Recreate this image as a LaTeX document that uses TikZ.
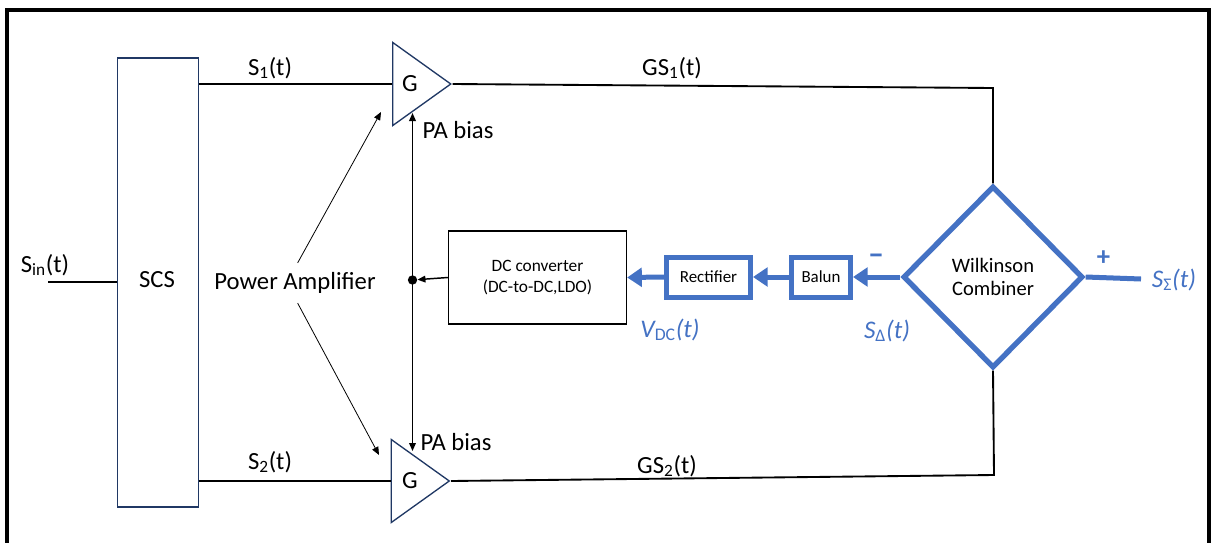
\documentclass[tikz,border=0pt]{standalone}
\usepackage{fontspec}
\setmainfont{Carlito}
\usepackage{xcolor}
\definecolor{combblue}{RGB}{68,114,196}
\definecolor{scsnavy}{RGB}{32,56,100}
\usetikzlibrary{shapes.geometric,arrows.meta}

\tikzset{
    lbl/.style={font=\fontsize{18.5}{22}\selectfont, inner sep=0pt},
    bluelbl/.style={text=combblue, font=\fontsize{19}{23}\selectfont\itshape, inner sep=0pt},
    wire/.style={line width=1.4pt},
    thinarrow/.style={line width=0.6pt, -{Triangle[length=6pt,width=5pt]}},
    biasarrow/.style={line width=1.1pt, -{Triangle[length=6pt,width=5pt]}},
    bluewire/.style={combblue, line width=3.75pt},
    bluearrow/.style={bluewire, -{Triangle[length=11pt,width=14pt]}},
    bluebox/.style={draw=combblue, line width=3.75pt, minimum height=30pt, inner sep=0pt, font=\fontsize{12.7}{15}\selectfont},
    amp/.style={draw=scsnavy, line width=1pt, isosceles triangle, isosceles triangle stretches, minimum height=43.5pt, minimum width=62.25pt, inner sep=0pt, anchor=apex},
}

\begin{document}
\begin{tikzpicture}[x=0.75pt, y=-0.75pt]
    \useasboundingbox (0,0) rectangle (1212,542);
    \clip (0,0) rectangle (1212,542);

    % Frame
    \draw[line width=2.5pt] (7,10) rectangle (1209,600);

    % Splitter
    \node[draw=scsnavy, line width=1.1pt, minimum width=60.75pt, minimum height=336.75pt, inner sep=0pt] (scs) at (158,282.5) {};
    \node[lbl] (scslbl) at (157,280) {SCS};
    \coordinate (in) at (48,282);
    \draw[wire] (in) -- (in -| scs.west);
    \node[lbl] (sinlbl) at (45,265) {S\textsubscript{in}(t)};

    % Amplifiers
    \node[amp] (amp1) at (452.5,84) {};
    \node[lbl] (g1) at (410,84) {G};
    \node[amp] (amp2) at (451,481) {};
    \node[lbl] (g2) at (410,481) {G};

    \draw[wire] (scs.east |- amp1.west) -- (amp1.west);
    \draw[wire] (scs.east |- amp2.west) -- (amp2.west);
    \node[lbl] (s1) at (270,68) {S\textsubscript{1}(t)};
    \node[lbl] (s2) at (270,462) {S\textsubscript{2}(t)};

    \node[lbl, inner ysep=7pt] (pa) at (295,283) {Power Amplifier};
    \coordinate (patip1) at (381,112);
    \coordinate (patip2) at (379,455);
    \draw[thinarrow] ([xshift=2pt]pa.north) -- (patip1);
    \draw[thinarrow] ([xshift=2pt]pa.south) -- (patip2);

    % Bias from DC converter
    \node[draw, line width=1pt, minimum width=133.5pt, minimum height=69.75pt, align=center, font=\fontsize{13}{16}\selectfont] (dcc) at (537.5,277.5) {DC converter\\(DC-to-DC,LDO)};
    \node[circle, fill, inner sep=0pt, minimum size=7pt] (dot) at (412.5,280) {};
    \coordinate (bias1) at (412.5,113);
    \coordinate (bias2) at (412.5,451);
    \draw[biasarrow] (dcc.west) -- (dot);
    \draw[biasarrow] (dot.center) -- (bias1);
    \draw[biasarrow] (dot.center) -- (bias2);
    \node[lbl] (pab1) at (458,130) {PA bias};
    \node[lbl] (pab2) at (456,442) {PA bias};

    % Combiner
    \node[diamond, draw=combblue, line width=4pt, minimum width=135pt, minimum height=136.5pt, inner sep=0pt, align=center, font=\fontsize{15.4}{17.5}\selectfont] (wil) at (993,277) {Wilkinson\\Combiner};
    \coordinate (k1) at (993,88);
    \coordinate (k2) at (994,475);
    \draw[wire] (amp1.apex) -- (k1) -- (wil.north);
    \draw[wire] (amp2.apex) -- (k2) -- (wil.south);
    \node[lbl] (gs1) at (672,68) {GS\textsubscript{1}(t)};
    \node[lbl] (gs2) at (667,466) {GS\textsubscript{2}(t)};

    \coordinate (out) at (1141,279);
    \draw[bluewire] (wil.east) -- (out);
    \node[bluelbl] (ssum) at (1174,280) {S\textsubscript{\upshape Σ}(t)};
    \node[text=combblue, font=\fontsize{20}{22}\selectfont\bfseries, inner sep=0pt] (plus) at (1103.5,258) {+};

    % Difference path
    \node[bluebox, minimum width=44.25pt] (balun) at (821,277) {Balun};
    \node[bluebox, minimum width=63pt] (rect) at (708.5,277) {Rectifier};
    \draw[bluearrow] (wil.west) -- (balun.east);
    \draw[bluearrow] (balun.west) -- (rect.east);
    \draw[bluearrow] (rect.west) -- (dcc.east);
    \node[text=combblue, font=\fontsize{24}{26}\selectfont\bfseries, inner sep=0pt] (minus) at (876,259) {–};
    \node[bluelbl] (sdiff) at (887,331) {S\textsubscript{\upshape Δ}(t)};
    \node[bluelbl] (vdc) at (670,330) {V\textsubscript{\upshape DC}(t)};
\end{tikzpicture}
\end{document}
